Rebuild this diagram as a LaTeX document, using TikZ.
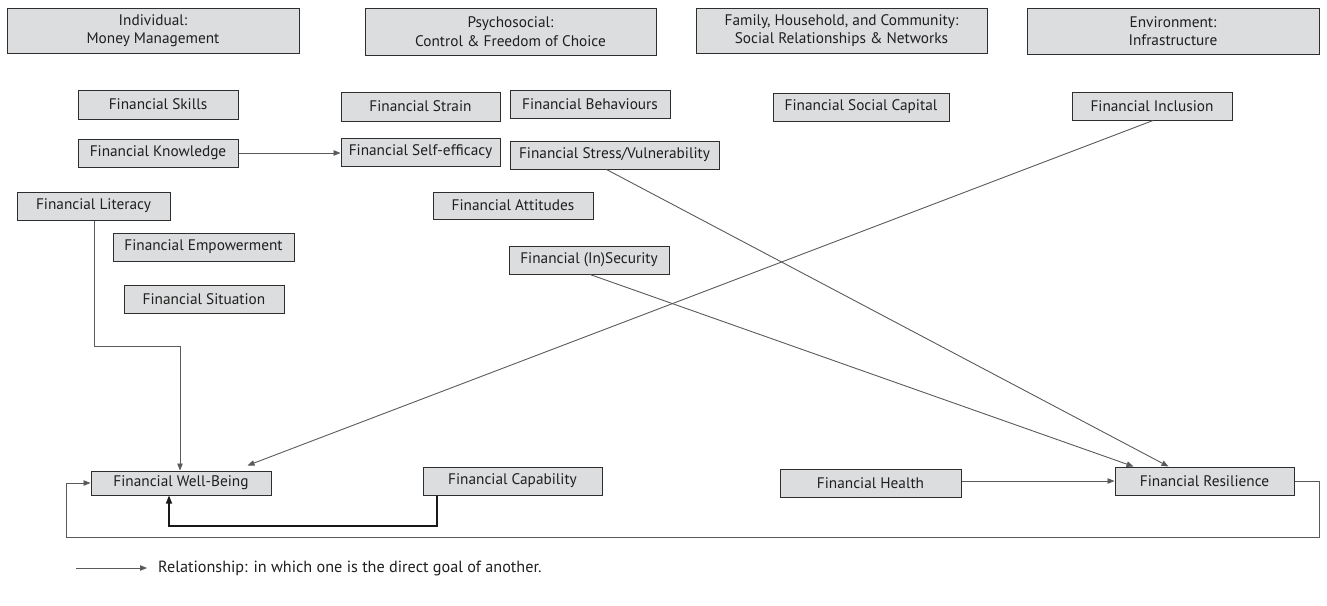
\documentclass[tikz,border=0pt]{standalone}
\usepackage{fontspec}
\setmainfont{PT Sans}
\usetikzlibrary{arrows.meta}
\definecolor{boxfill}{HTML}{DCDDDE}
\definecolor{boxline}{HTML}{2E2E2E}
\definecolor{arrline}{HTML}{5A5A5A}
\tikzset{
  fbox/.style={draw=boxline, line width=1pt, fill=boxfill, inner sep=0pt,
    font=\fontsize{15.3}{18.5}\selectfont, text=black!88, align=center},
  arr/.style={draw=arrline, line width=0.9pt, -{Triangle[length=7pt,width=5.5pt]}},
  plain/.style={draw=arrline, line width=0.9pt},
  darr/.style={draw=black!90, line width=1.3pt, -{Triangle[length=8pt,width=6pt]}}
}
\newcommand{\fb}[6]{\node[fbox, minimum width=#4pt, minimum height=#5pt] (#1) at (#2,#3) {#6};}
\begin{document}
\begin{tikzpicture}[x=1pt,y=-1pt]
\useasboundingbox (0,0) rectangle (1327,605);
% headers
\fb{hInd}{153}{30.5}{292}{45}{Individual:\\Money Management}
\fb{hPsy}{510.5}{31.5}{291}{47}{Psychosocial:\\Control \& Freedom of Choice}
\fb{hFam}{841.5}{30.5}{291}{45}{Family, Household, and Community:\\Social Relationships \& Networks}
\fb{hEnv}{1173}{31}{292}{46}{Environment:\\Infrastructure}
% concepts
\fb{skills}{158}{104.5}{160}{29}{Financial Skills}
\fb{strain}{420.5}{106.5}{159}{29}{Financial Strain}
\fb{behav}{590}{104}{160}{28}{Financial Behaviours}
\fb{social}{861}{107}{176}{28}{Financial Social Capital}
\fb{incl}{1152}{106}{160}{28}{Financial Inclusion}
\fb{know}{158}{153}{160}{28}{Financial Knowledge}
\fb{selfeff}{420.5}{152}{159}{28}{Financial Self-efficacy}
\fb{stress}{614.5}{155}{209}{28}{Financial Stress/Vulnerability}
\fb{literacy}{93.5}{206}{153}{28}{Financial Literacy}
\fb{attitudes}{513}{205.5}{160}{27}{Financial Attitudes}
\fb{empower}{203.5}{247}{181}{28}{Financial Empowerment}
\fb{insec}{589}{260}{160}{28}{Financial (In)Security}
\fb{situation}{204}{299}{160}{28}{Financial Situation}
\fb{wb}{181}{483}{180}{24}{Financial Well-Being}
\fb{capab}{512.5}{481}{179}{28}{Financial Capability}
\fb{health}{870.5}{483}{181}{28}{Financial Health}
\fb{resil}{1204.5}{481}{179}{28}{Financial Resilience}
% helper coordinates
\coordinate (litA) at (94,346);
\coordinate (litB) at (180,346);
\coordinate (capA) at (437,526);
\coordinate (capB) at (169,526);
\coordinate (loopA) at (1319,481);
\coordinate (loopB) at (1319,537);
\coordinate (loopC) at (66,537);
\coordinate (loopD) at (66,483);
% connectors
\draw[arr] (know.east) -- (know.east -| selfeff.west);
\draw[arr] (literacy.south -| litA) -- (litA) -- (litB) -- (litB |- wb.north);
\draw[darr] (capab.south -| capA) -- (capA) -- (capB) -- (capB |- wb.south);
\draw[arr] (resil.east |- loopA) -- (loopA) -- (loopB) -- (loopC) -- (loopD) -- (loopD -| wb.west);
\draw[arr] ([xshift=1pt]incl.south) -- ([xshift=-24pt,yshift=5pt]wb.north east);
\draw[arr] ([xshift=-8pt]stress.south) -- ([xshift=-36pt]resil.north);
\draw[arr] ([xshift=1pt]insec.south) -- ([xshift=-71pt]resil.north);
\draw[arr] (health.east |- resil.west) -- (resil.west);
% legend
\coordinate (legA) at (76,568);
\coordinate (legB) at (147,568);
\draw[arr] (legA) -- (legB);
\node[anchor=west, inner sep=0pt, font=\fontsize{16.2}{19}\selectfont, text=black!88] (legtxt) at (158,568) {Relationship: in which one is the direct goal of another.};
\end{tikzpicture}
\end{document}
